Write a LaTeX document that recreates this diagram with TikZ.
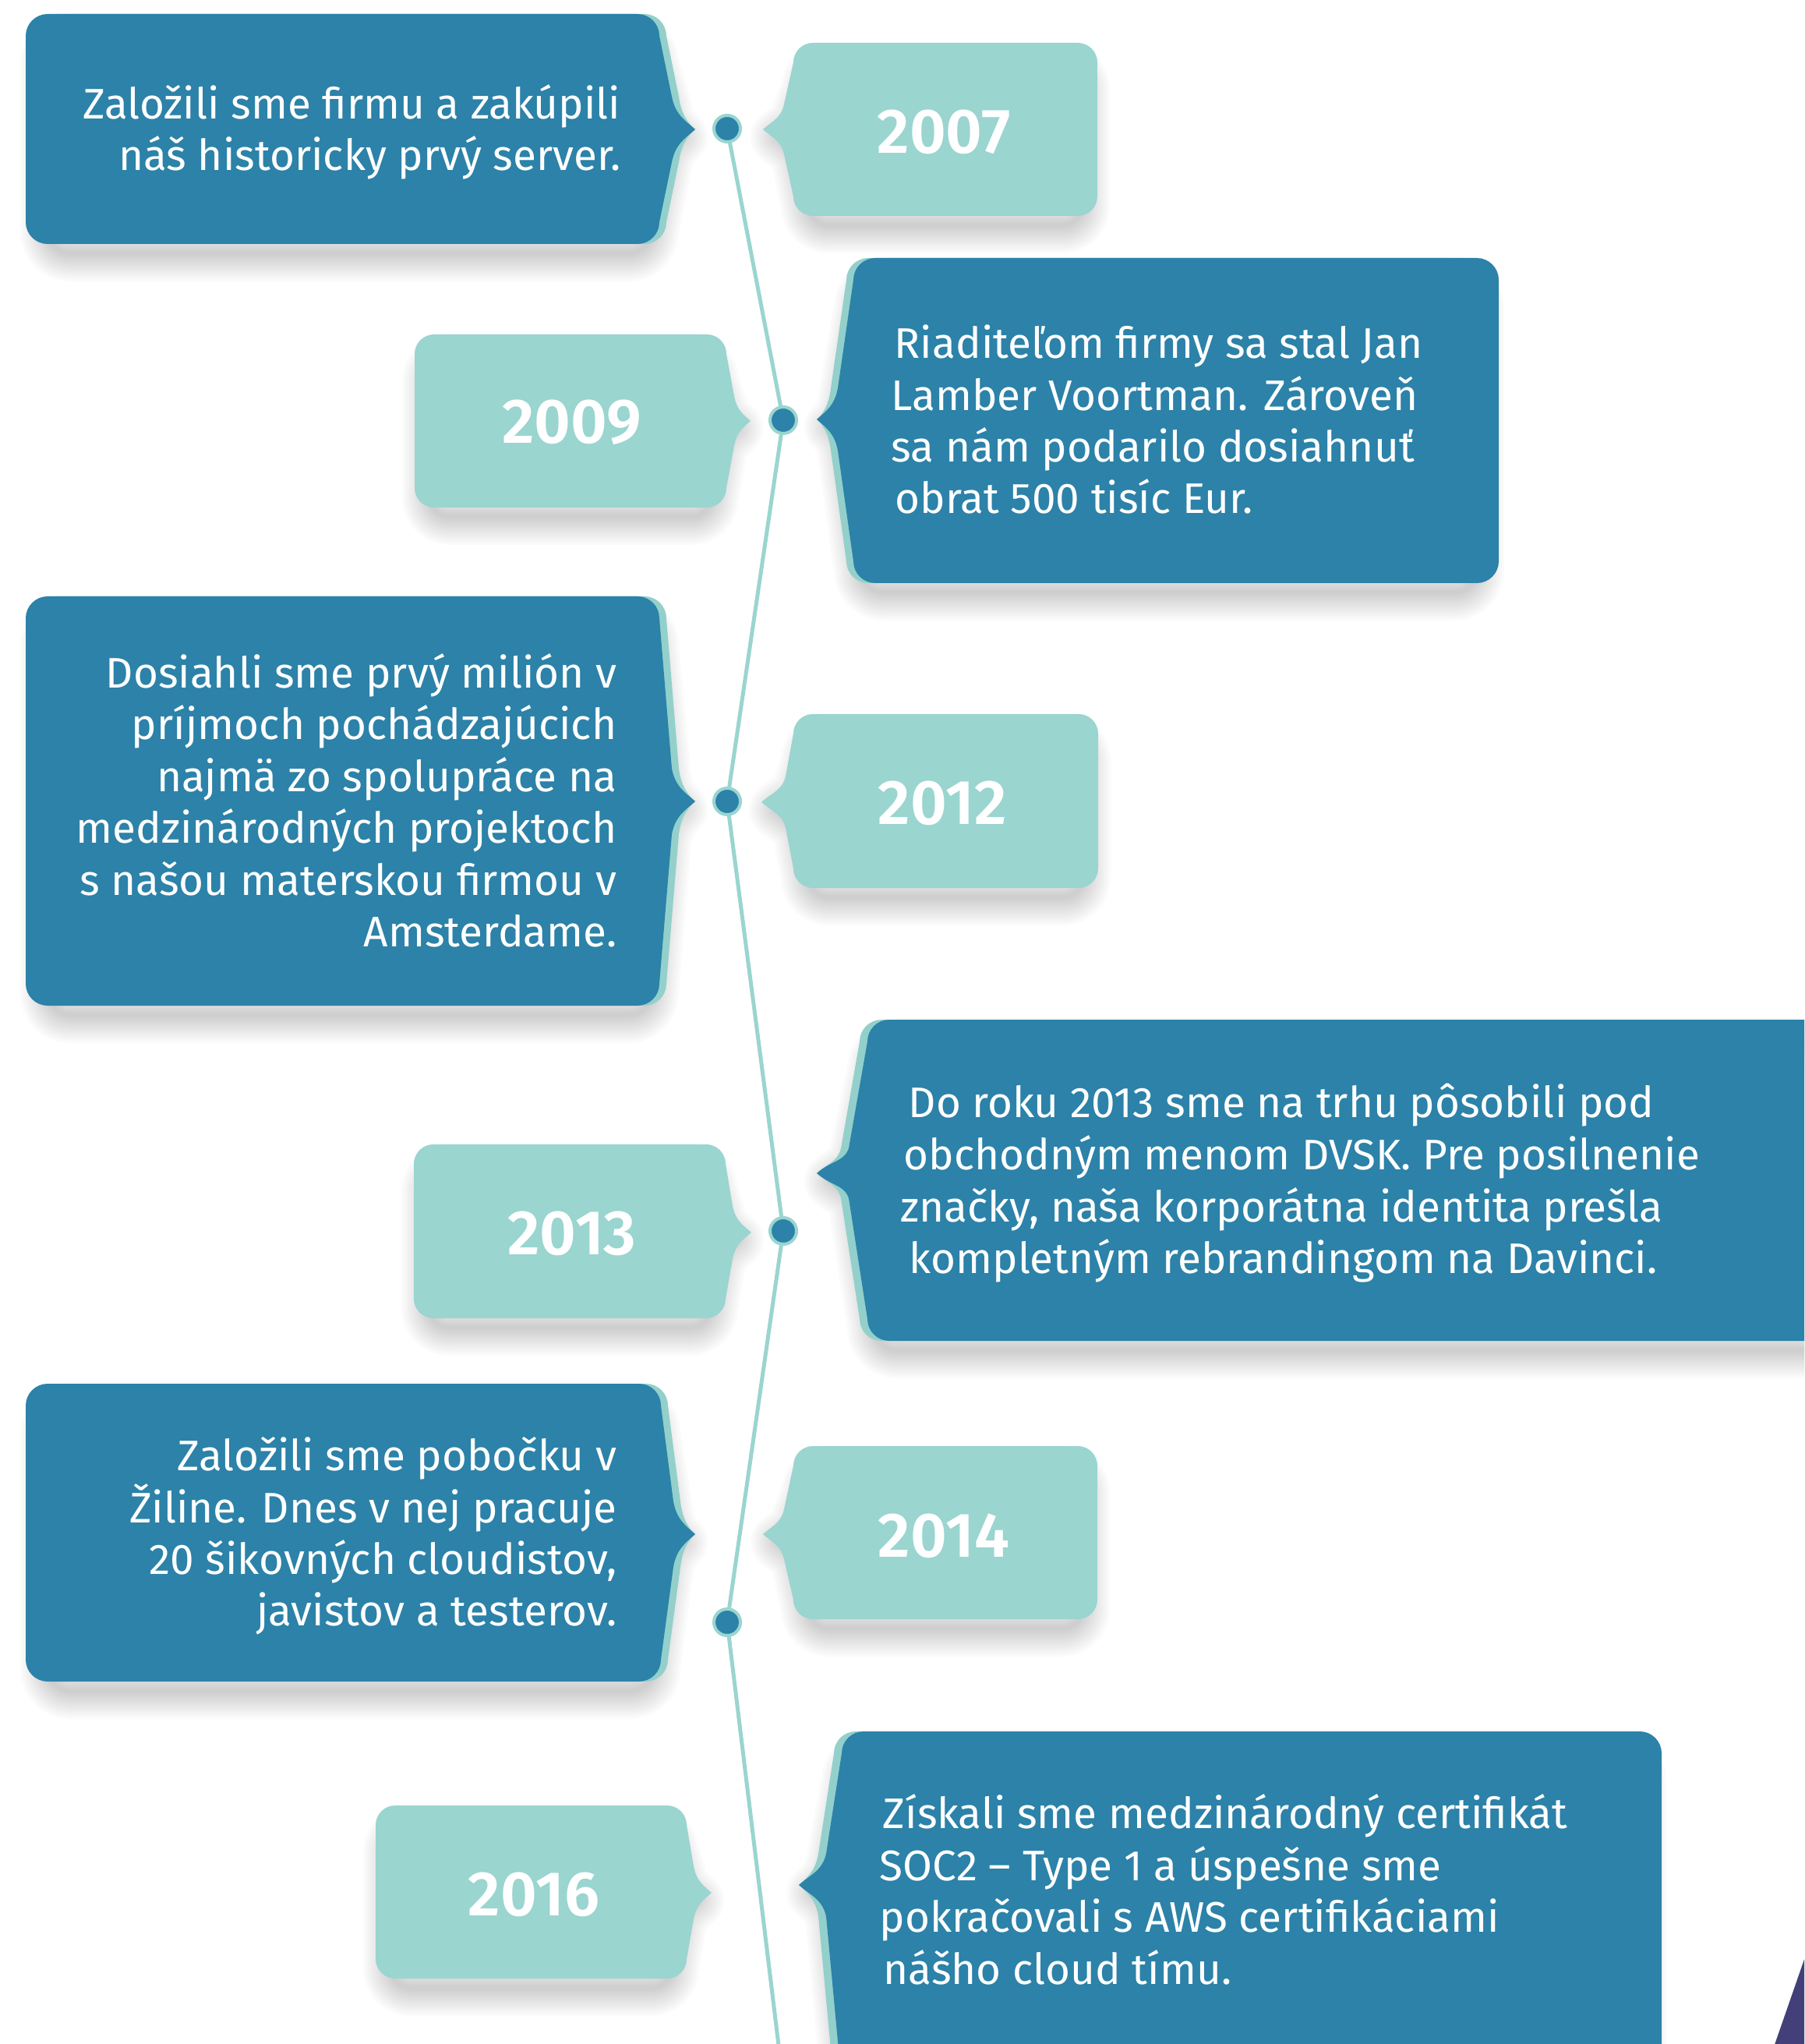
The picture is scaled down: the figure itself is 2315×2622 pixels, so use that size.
\documentclass[tikz,border=0pt]{standalone}
\usepackage{fontspec}
\setmainfont{Fira Sans}[BoldFont={Fira Sans SemiBold}]
\definecolor{cDark}{HTML}{2C82A8}
\definecolor{cTeal}{HTML}{9AD5D0}
\definecolor{cTealB}{HTML}{93D0CB}
\definecolor{cPurple}{HTML}{433F78}
\def\crad{28}
% pointer on the right side
\newcommand\ptrR[9]{%
 \fill[#1] ({#2+\crad},#3) -- ({#4-\crad},#3) .. controls ({#4-0.45*\crad},#3) and (#4,{#3+0.45*\crad}) .. (#4,{#3+\crad})
 -- ({#4+#8},{#7-#9}) .. controls ({#4+#8+0.15*(#6-#4-#8)},{#7-0.45*#9}) and ({#6-0.45*(#6-#4-#8)},{#7-0.4*(#6-#4-#8)}) .. (#6,#7)
 .. controls ({#6-0.45*(#6-#4-#8)},{#7+0.4*(#6-#4-#8)}) and ({#4+#8+0.15*(#6-#4-#8)},{#7+0.45*#9}) .. ({#4+#8},{#7+#9})
 -- (#4,{#5-\crad}) .. controls (#4,{#5-0.45*\crad}) and ({#4-0.45*\crad},#5) .. ({#4-\crad},#5)
 -- ({#2+\crad},#5) .. controls ({#2+0.45*\crad},#5) and (#2,{#5-0.45*\crad}) .. (#2,{#5-\crad})
 -- (#2,{#3+\crad}) .. controls (#2,{#3+0.45*\crad}) and ({#2+0.45*\crad},#3) .. ({#2+\crad},#3) -- cycle;}
% pointer on the left side
\newcommand\ptrL[9]{%
 \fill[#1] ({#2+\crad},#3) -- ({#4-\crad},#3) .. controls ({#4-0.45*\crad},#3) and (#4,{#3+0.45*\crad}) .. (#4,{#3+\crad})
 -- (#4,{#5-\crad}) .. controls (#4,{#5-0.45*\crad}) and ({#4-0.45*\crad},#5) .. ({#4-\crad},#5)
 -- ({#2+\crad},#5) .. controls ({#2+0.45*\crad},#5) and (#2,{#5-0.45*\crad}) .. (#2,{#5-\crad})
 -- ({#2-#8},{#7+#9}) .. controls ({#2-#8-0.15*(#2-#8-#6)},{#7+0.45*#9}) and ({#6+0.45*(#2-#8-#6)},{#7+0.4*(#2-#8-#6)}) .. (#6,#7)
 .. controls ({#6+0.45*(#2-#8-#6)},{#7-0.4*(#2-#8-#6)}) and ({#2-#8-0.15*(#2-#8-#6)},{#7-0.45*#9}) .. ({#2-#8},{#7-#9})
 -- (#2,{#3+\crad}) .. controls (#2,{#3+0.45*\crad}) and ({#2+0.45*\crad},#3) .. ({#2+\crad},#3) -- cycle;}
% soft shadows: inset, lowered copy stroked with stacked translucent widths
\newcommand\shR[8]{%
 \pgfmathsetmacro\shXa{#1+20}\pgfmathsetmacro\shYa{#2+35}%
 \pgfmathsetmacro\shXb{#3-20}\pgfmathsetmacro\shYb{#4+12}%
 \pgfmathsetmacro\shTx{#5-20}\pgfmathsetmacro\shTy{#6+10}%
 \foreach \w in {6,12,...,72}{\ptrR{shdlayer=\w}{\shXa}{\shYa}{\shXb}{\shYb}{\shTx}{\shTy}{#7}{#8}}}
\newcommand\shL[8]{%
 \pgfmathsetmacro\shXa{#1+20}\pgfmathsetmacro\shYa{#2+35}%
 \pgfmathsetmacro\shXb{#3-20}\pgfmathsetmacro\shYb{#4+12}%
 \pgfmathsetmacro\shTx{#5+20}\pgfmathsetmacro\shTy{#6+10}%
 \foreach \w in {6,12,...,72}{\ptrL{shdlayer=\w}{\shXa}{\shYa}{\shXb}{\shYb}{\shTx}{\shTy}{#7}{#8}}}
\tikzset{
 shdlayer/.style={fill=none, draw=black, draw opacity=0.017, line width=#1*0.01cm, line join=round},
 darkfill/.style={fill=cDark},
 backfill/.style={fill=cTealB},
 yearfill/.style={fill=cTeal},
 tline/.style={draw=cTeal, line width=0.05cm},
 tdot/.style={circle, fill=cDark, draw=cTeal, line width=0.04cm, minimum size=0.34cm, inner sep=0pt},
 txtbody/.style={text=white, inner sep=0pt, font=\fontsize{15.6}{18}\selectfont},
 yeartxt/.style={text=white, inner sep=0pt, font=\fontsize{23}{26}\selectfont\bfseries},
}
\begin{document}
\begin{tikzpicture}[x=0.01cm, y=-0.01cm]
\useasboundingbox (0,0) rectangle (2315,2622);
\clip (0,0) rectangle (2315,2622);
\fill[white] (0,0) rectangle (2315,2622);
% shadows
\def\crad{28}
\shR{42}{18}{855}{313}{892}{166}{16}{42}
\shR{42}{765}{855}{1290}{892}{1028}{16}{42}
\shR{42}{1775}{857}{2157}{892}{1968}{16}{42}
\shL{1086}{331}{1914}{748}{1048}{538}{20}{40}
\shL{1103}{1308}{2390}{1720}{1048}{1505}{24}{32}
\shL{1070}{2221}{2122}{2700}{1025}{2418}{20}{40}
\def\crad{25}
\shL{1018}{55}{1408}{277}{979}{166}{12}{32}
\shR{532}{429}{932}{651}{963}{540}{10}{32}
\shL{1018}{916}{1409}{1139}{977}{1029}{10}{33}
\shR{531}{1468}{931}{1691}{964}{1581}{9}{34}
\shL{1018}{1855}{1408}{2077}{979}{1968}{12}{32}
\shR{482}{2316}{881}{2538}{913}{2428}{9}{34}
% dark event boxes (teal back copy + dark)
\def\crad{28}
\ptrR{backfill}{42}{18}{855}{313}{892}{166}{16}{42}
\ptrR{darkfill}{33}{18}{846}{313}{892}{166}{16}{42}
\ptrR{backfill}{42}{765}{855}{1290}{892}{1028}{16}{42}
\ptrR{darkfill}{33}{765}{846}{1290}{892}{1028}{16}{42}
\ptrR{backfill}{42}{1775}{857}{2157}{892}{1968}{16}{42}
\ptrR{darkfill}{33}{1775}{848}{2157}{892}{1968}{16}{42}
\ptrL{backfill}{1086}{331}{1914}{748}{1048}{538}{20}{40}
\ptrL{darkfill}{1095}{331}{1923}{748}{1048}{538}{20}{40}
\ptrL{backfill}{1103}{1308}{2390}{1720}{1048}{1505}{24}{32}
\ptrL{darkfill}{1113}{1308}{2400}{1720}{1048}{1505}{24}{32}
\ptrL{backfill}{1070}{2221}{2122}{2700}{1025}{2418}{20}{40}
\ptrL{darkfill}{1080}{2221}{2132}{2700}{1025}{2418}{20}{40}
% year boxes
\def\crad{25}
\ptrL{yearfill}{1018}{55}{1408}{277}{979}{166}{12}{32}
\ptrR{yearfill}{532}{429}{932}{651}{963}{540}{10}{32}
\ptrL{yearfill}{1018}{916}{1409}{1139}{977}{1029}{10}{33}
\ptrR{yearfill}{531}{1468}{931}{1691}{964}{1581}{9}{34}
\ptrL{yearfill}{1018}{1855}{1408}{2077}{979}{1968}{12}{32}
\ptrR{yearfill}{482}{2316}{881}{2538}{913}{2428}{9}{34}
% purple corner
\fill[cPurple] (2271,2640) -- (2320,2499) -- (2320,2640) -- cycle;
% timeline
\coordinate (p1) at (933,165);
\coordinate (p2) at (1005,539);
\coordinate (p3) at (933,1028);
\coordinate (p4) at (1005,1579);
\coordinate (p5) at (933,2081);
\coordinate (pend) at (1001,2640);
\draw[tline] (p1) -- (p2) -- (p3) -- (p4) -- (p5) -- (pend);
\node[tdot] (d1) at (p1) {};
\node[tdot] (d2) at (p2) {};
\node[tdot] (d3) at (p3) {};
\node[tdot] (d4) at (p4) {};
\node[tdot] (d5) at (p5) {};
% years
\node[yeartxt] (y2007) at (1211,169) {2007};
\node[yeartxt] (y2009) at (734,542) {2009};
\node[yeartxt] (y2012) at (1209,1030) {2012};
\node[yeartxt] (y2013) at (734,1582) {2013};
\node[yeartxt] (y2014) at (1211,1970) {2014};
\node[yeartxt] (y2016) at (685,2430) {2016};
% texts A
\node[txtbody, anchor=base east] (a1) at (797,153) {Založili sme firmu a zakúpili};
\node[txtbody, anchor=base east] (a2) at (797,219) {náš historicky prvý server.};
% texts B
\node[txtbody, anchor=base west] (b1) at (1147,460) {Riaditeľom firmy sa stal Jan};
\node[txtbody, anchor=base west] (b2) at (1143,527) {Lamber Voortman. Zároveň};
\node[txtbody, anchor=base west] (b3) at (1143,593) {sa nám podarilo dosiahnuť};
\node[txtbody, anchor=base west] (b4) at (1148,659) {obrat 500 tisíc Eur.};
% texts C
\node[txtbody, anchor=base east] (c1) at (792,882) {Dosiahli sme prvý milión v};
\node[txtbody, anchor=base east] (c2) at (792,948) {príjmoch pochádzajúcich};
\node[txtbody, anchor=base east] (c3) at (792,1015) {najmä zo spolupráce na};
\node[txtbody, anchor=base east] (c4) at (792,1081) {medzinárodných projektoch};
\node[txtbody, anchor=base east] (c5) at (792,1148) {s našou materskou firmou v};
\node[txtbody, anchor=base east] (c6) at (792,1214) {Amsterdame.};
% texts D
\node[txtbody, anchor=base west] (e1) at (1165,1433) {Do roku 2013 sme na trhu pôsobili pod};
\node[txtbody, anchor=base west] (e2) at (1159,1500) {obchodným menom DVSK. Pre posilnenie};
\node[txtbody, anchor=base west] (e3) at (1155,1567) {značky, naša korporátna identita prešla};
\node[txtbody, anchor=base west] (e4) at (1166,1633) {kompletným rebrandingom na Davinci.};
% texts E
\node[txtbody, anchor=base east] (f1) at (792,1886) {Založili sme pobočku v};
\node[txtbody, anchor=base east] (f2) at (792,1953) {Žiline. Dnes v nej pracuje};
\node[txtbody, anchor=base east] (f3) at (792,2019) {20 šikovných cloudistov,};
\node[txtbody, anchor=base east] (f4) at (792,2085) {javistov a testerov.};
% texts F
\node[txtbody, anchor=base west] (g1) at (1132,2345) {Získali sme medzinárodný certifikát};
\node[txtbody, anchor=base west] (g2) at (1128,2412) {SOC2 – Type 1 a úspešne sme};
\node[txtbody, anchor=base west] (g3) at (1128,2478) {pokračovali s AWS certifikáciami};
\node[txtbody, anchor=base west] (g4) at (1133,2545) {nášho cloud tímu.};
\end{tikzpicture}
\end{document}
